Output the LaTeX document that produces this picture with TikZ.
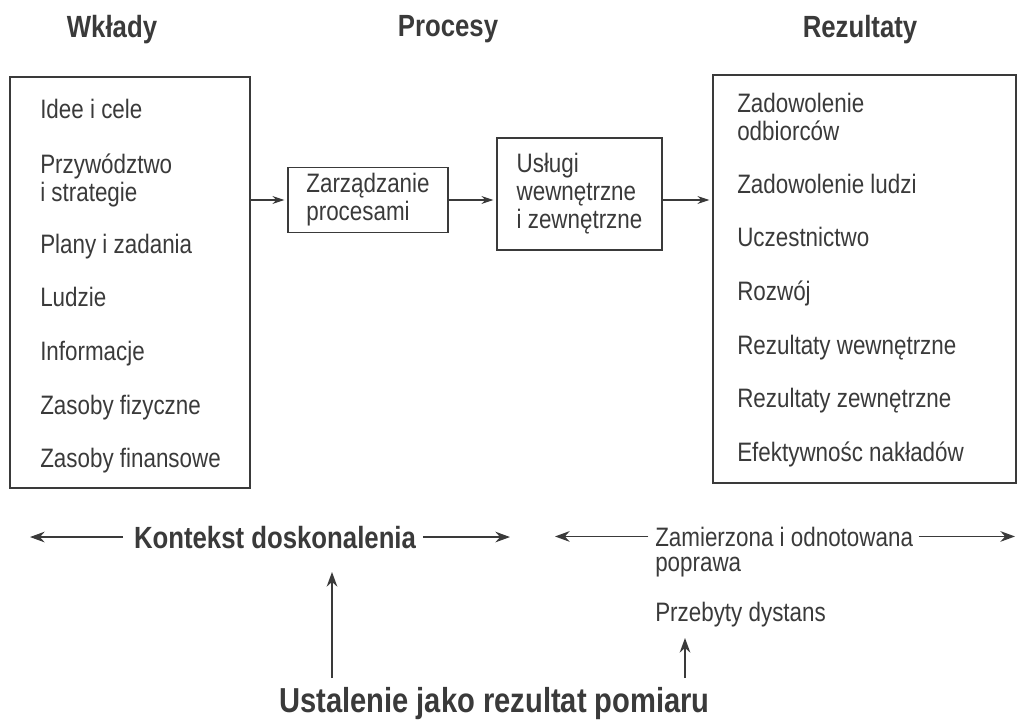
\documentclass[tikz,border=0pt]{standalone}
\usepackage{fontspec}
\setmainfont{Liberation Sans}[FakeStretch=0.84]
\usetikzlibrary{arrows.meta}
\definecolor{ink}{HTML}{3A3A3A}

\begin{document}
\begin{tikzpicture}[x=0.75pt,y=-0.75pt,
    every node/.style={text=ink},
    txt/.style={font=\fontsize{20}{21}\selectfont, inner sep=0pt, anchor=base west, align=left},
    head/.style={font=\bfseries\fontsize{23}{26}\selectfont, inner sep=0pt, anchor=base},
    big/.style={font=\bfseries\fontsize{26}{28}\selectfont, inner sep=0pt, anchor=base},
    frame/.style={draw=ink, line width=1.4pt, inner sep=0pt},
    pbox/.style={frame, font=\fontsize{20}{21}\selectfont, align=left, text depth=4pt},
    link/.style={draw=ink, line width=1pt, shorten >=2pt, -{Stealth[length=9pt,width=6pt]}},
    long/.style={draw=ink, line width=1pt, -{Stealth[length=11pt,width=8pt]}}
  ]
  \useasboundingbox (0,0) rectangle (1018,720);

  \node[head] (hwk) at (112,38) {Wkłady};
  \node[head] (hpr) at (448,37) {Procesy};
  \node[head] (hrez) at (860,38) {Rezultaty};

  \node[frame, minimum width=180pt, minimum height=308.25pt] (wk) at (130,282.5) {};
  \node[frame, minimum width=227.25pt, minimum height=306pt] (rez) at (864.5,279) {};
  \node[pbox, minimum width=120pt, minimum height=48.75pt] (zp) at (368,200) {Zarządzanie\\procesami};
  \node[pbox, minimum width=123.75pt, minimum height=84pt] (us) at (579.5,194) {Usługi\\wewnętrzne\\i zewnętrzne};

  \node[txt] (w1) at (40,119) {Idee i cele};
  \node[txt] (w2) at (40,202) {Przywództwo\\i strategie};
  \node[txt] (w3) at (40,254) {Plany i zadania};
  \node[txt] (w4) at (40,307) {Ludzie};
  \node[txt] (w5) at (40,361) {Informacje};
  \node[txt] (w6) at (40,414) {Zasoby fizyczne};
  \node[txt] (w7) at (40,467) {Zasoby finansowe};

  \node[txt] (r1) at (737,141) {Zadowolenie\\odbiorców};
  \node[txt] (r2) at (737,194) {Zadowolenie ludzi};
  \node[txt] (r3) at (737,247) {Uczestnictwo};
  \node[txt] (r4) at (737,301) {Rozwój};
  \node[txt] (r5) at (737,354) {Rezultaty wewnętrzne};
  \node[txt] (r6) at (737,407) {Rezultaty zewnętrzne};
  \node[txt] (r7) at (737,461) {Efektywnośc nakładów};

  \draw[link] (wk.east |- zp.west) -- (zp.west);
  \draw[link] (zp.east) -- (zp.east -| us.west);
  \draw[link] (us.east |- zp.east) -- (zp.east -| rez.west);

  \node[head] (kon) at (275,548) {Kontekst doskonalenia};
  \coordinate (konl) at (30,540);
  \coordinate (konr) at (510,540);
  \draw[long, shorten <=8pt] (kon.west) -- (kon.west -| konl);
  \draw[long, shorten <=5pt] (kon.east) -- (kon.east -| konr);

  \node[txt] (zam) at (655,546) {Zamierzona i odnotowana};
  \node[txt] (pop) at (655,571) {poprawa};
  \coordinate (zaml) at (555,537);
  \coordinate (zamr) at (1015,537);
  \draw[long, shorten <=5pt] (zam.west) -- (zam.west -| zaml);
  \draw[long, shorten <=4pt] (zam.east) -- (zam.east -| zamr);

  \node[txt] (prz) at (655,621) {Przebyty dystans};
  \node[big] (ust) at (494.5,712) {Ustalenie jako rezultat pomiaru};

  \coordinate (u0) at (332,678);
  \coordinate (u1) at (332,572);
  \coordinate (d0) at (685,678);
  \coordinate (d1) at (685,638);
  \draw[long] (u0) -- (u1);
  \draw[long] (d0) -- (d1);
\end{tikzpicture}
\end{document}
